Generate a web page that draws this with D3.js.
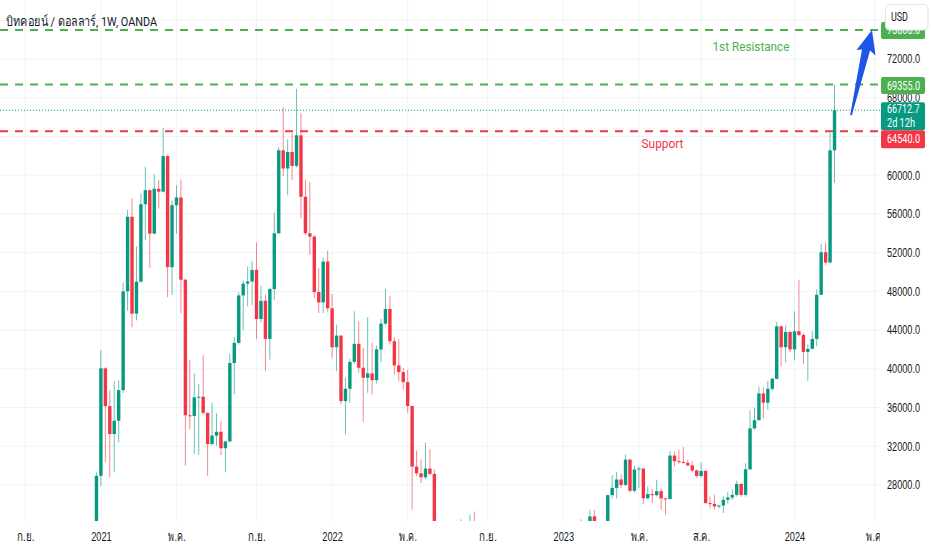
<!DOCTYPE html>
<html><head><meta charset="utf-8">
<script src="https://cdn.jsdelivr.net/npm/d3@7"></script>
<style>
body{margin:0;background:#fff;}
svg{display:block;font-family:Roboto,"Noto Sans","DejaVu Sans",sans-serif;}
</style>
</head><body>
<svg id="chart" width="932" height="550"></svg>
<script>
// ---------- DATA (weekly candles, first week Monday 2020-12-28) ----------
const firstWeek = "2020-12-28";
const lastWeek  = "2024-03-04";
const opens = [
 23700,28950,40050,36150,33260,34640,37800,48000,55700,45700,49000,57000,58450,53960,58600,58300,61970,50500,56900,57700,49200,35200,35130,37050,37120,35450,32230,33100,33500,31800,32500,40600,42680,47580,48800,49020,50220,45150,47030,43090,48240,54000,62570,60690,62400,60960,64120,57770,54000,53650,47930,46860,51080,
 46250,42230,43430,36670,37940,40720,42580,40110,39080,39520,38830,42000,44670,46180,42850,40350,39660,38630,36160,29900,29200,28800,29700,29150,20550,21030,19300,20850,20800,22600,23630,23180,24100,21500,20000,19800,21700,19400,18800,19300,19100,19200,20800,20600,20900,16300,16300,16500,17100,17100,16800,16800,
 16600,17100,20900,22700,22900,23400,21800,24760,23500,22400,22000,26950,27700,28570,28000,30620,27400,29600,29700,26630,27060,26950,27360,26620,26550,31040,30460,30380,30290,30020,29500,28930,29450,26130,26050,25790,25880,26470,26710,26980,28110,26980,29620,33850,34700,37460,36500,37940,38970,44390,42230,43810,42000,
 43880,43500,41750,42060,43090,47650,52040,50980,62570
];
const highs = [
 29300,41950,40150,37800,38700,38800,48900,56400,57600,52650,58100,60860,58500,60100,59500,64900,62100,57400,58960,59550,49300,40900,39500,38440,41400,35500,36500,35400,34640,32600,41550,43270,47900,49100,50570,51150,53040,48580,47650,48400,56120,62900,67030,63700,64360,68920,66410,59550,59310,53800,50400,51500,52210,
 47720,44560,43500,39080,41030,45940,44910,42170,45350,42680,42400,45150,48240,47480,43260,43090,40110,39900,36200,31550,30650,32380,31700,29600,21900,21500,22500,21600,24300,24450,23650,24920,25260,21800,20600,21800,22700,19700,20400,20500,19900,20900,21100,21400,21000,17200,16700,17400,17400,18400,17000,16900,
 17400,21400,23300,23900,24450,23500,25450,25400,23900,22600,27000,29000,29340,29100,31140,30700,30000,29900,29750,27840,27600,28550,27630,26650,31480,31480,31650,31920,30630,30460,29610,30360,29600,26800,27000,25950,26880,27300,27500,28450,28210,30250,35700,36000,38150,38050,38730,39050,44840,44460,44460,43880,45940,
 49200,43700,42500,43880,48240,52900,53070,64360,69355
];
const lows = [
 21900,27900,30330,28800,29300,32400,37500,46000,44300,45000,48900,53300,50450,53900,56550,58200,47400,47650,53960,45750,30000,33760,31200,31100,35300,28950,32100,32050,31100,29360,32400,37400,42500,44000,46450,46600,43090,44800,39760,40960,47140,53900,59900,57940,59490,60800,55540,53800,51770,47300,45770,45770,45900,
 41135,39760,36330,33250,36500,40500,39590,34510,37530,37360,38500,40690,44500,42510,39420,38730,37880,35470,25450,28930,28200,28600,28970,17600,19700,18800,19000,18900,20700,20700,22400,22700,20800,19600,19600,18500,19300,18200,18500,19000,18200,18900,19200,20100,15600,16000,15500,16000,16700,16300,16400,16300,
 16500,17100,20400,22300,22700,21400,21600,23000,21900,19600,21900,26620,26600,27700,27900,27230,27230,27700,26050,26550,26140,26820,25460,24920,26500,29950,30200,30220,29950,29320,28760,28760,26060,25620,25480,25550,25100,26080,26450,26800,26800,26800,29550,33700,34650,34860,35800,37700,38900,40270,40690,41720,40850,
 43350,40450,38730,42000,42340,47600,50740,50900,59210
];
const closes = [
 28950,40050,36150,33260,34640,37800,48000,55700,45700,49000,57000,58450,53960,58600,58300,61970,50500,56900,57700,49200,35200,35130,37050,37120,35450,32230,33100,33500,31800,32500,40600,42680,47580,48800,49020,50220,45150,47030,43090,48240,54000,62570,60690,62400,60960,64120,57770,54000,53650,47930,46860,51080,46250,
 42230,43430,36670,37940,40720,42580,40110,39080,39520,38830,42000,44670,46180,42850,40350,39660,38630,36160,29900,29200,28800,29700,29150,20550,21030,19300,20850,20800,22600,23630,23180,24100,21500,20000,19800,21700,19400,18800,19300,19100,19200,20800,20600,20900,16300,16300,16500,17100,17100,16800,16800,16600,
 17100,20900,22700,22900,23400,21800,24760,23500,22400,22000,26950,27700,28570,28000,30620,27400,29600,29700,26630,27060,26950,27360,26620,26550,31040,30460,30380,30290,30020,29500,28930,29450,26130,26050,25790,25880,26470,26710,26980,28110,26980,29620,33850,34700,37460,36500,37940,38970,44390,42230,43810,42000,43880,
 43500,41750,42060,43090,47650,52040,50980,62570,66712.7
];

const priceTicks = [28000,32000,36000,40000,44000,48000,52000,56000,60000,64000,68000,72000,76000];
const priceLabelTicks = [28000,32000,36000,40000,44000,48000,52000,56000,60000,68000,72000];
const timeTicks  = ["2020-09-07","2021-01-04","2021-05-03","2021-09-06","2022-01-03","2022-05-02","2022-09-05","2023-01-02","2023-05-01","2023-08-07","2024-01-01","2024-05-06"];
const timeLabels = ["ก.ย.","2021","พ.ค.","ก.ย.","2022","พ.ค.","ก.ย.","2023","พ.ค.","ส.ค.","2024","พ.ค."];

const resistance2 = 75000;
const resistance1 = 69355;
const support     = 64540;
const lastPrice   = 66712.7;
const countdown   = "2d 12h";
const titleText   = "บิทคอยน์ / ดอลลาร์, 1W, OANDA";
const resLabel    = "1st Resistance";
const supLabel    = "Support";
const currency    = "USD";

// ---------- SETUP ----------
const W = 932, H = 550, plotW = 880, plotH = 521;
const UP = "#089981", DOWN = "#F23645", GREEN = "#4CAF50", GRID = "#f0f3fa", TXT = "#131722";
const parse = d3.timeParse("%Y-%m-%d");
const weeks = d3.timeMonday.range(parse(firstWeek), d3.timeDay.offset(parse(lastWeek), 1));
const candles = weeks.map((d, i) => ({date: d, o: opens[i], h: highs[i], l: lows[i], c: closes[i]}));

const x = d3.scaleTime().domain([parse("2021-01-01"), parse("2024-01-01")]).range([99, 794.5]);
const y = d3.scaleLinear().domain([28000, 72000]).range([485, 59]);

const svg = d3.select("#chart");
const defs = svg.append("defs");
defs.append("clipPath").attr("id", "plotClip").append("rect").attr("x", 0).attr("y", 0).attr("width", plotW).attr("height", plotH);

svg.append("rect").attr("width", W).attr("height", H).attr("fill", "#fff");

const plot = svg.append("g").attr("clip-path", "url(#plotClip)");

// grid
plot.append("g").selectAll("line").data(priceTicks).join("line")
  .attr("x1", 0).attr("x2", plotW).attr("y1", d => y(d)).attr("y2", d => y(d))
  .attr("stroke", GRID).attr("stroke-width", 1);
plot.append("g").selectAll("line").data(timeTicks).join("line")
  .attr("x1", d => x(parse(d))).attr("x2", d => x(parse(d))).attr("y1", 0).attr("y2", plotH)
  .attr("stroke", GRID).attr("stroke-width", 1);

// candles
const cg = plot.append("g");
cg.selectAll("line.wick").data(candles).join("line").attr("class", "wick")
  .attr("x1", d => x(d.date)).attr("x2", d => x(d.date))
  .attr("y1", d => y(d.h)).attr("y2", d => y(d.l))
  .attr("stroke", d => d.c >= d.o ? UP : DOWN).attr("stroke-width", 1).attr("stroke-opacity", 0.6);
cg.selectAll("rect.body").data(candles).join("rect").attr("class", "body")
  .attr("x", d => x(d.date) - 1.7).attr("width", 3.4)
  .attr("y", d => y(Math.max(d.o, d.c)))
  .attr("height", d => Math.max(1, Math.abs(y(d.o) - y(d.c))))
  .attr("fill", d => d.c >= d.o ? UP : DOWN);

// level lines
function hline(v, color, w, dash) {
  plot.append("line").attr("x1", 0).attr("x2", plotW).attr("y1", y(v)).attr("y2", y(v))
    .attr("stroke", color).attr("stroke-width", w).attr("stroke-dasharray", dash);
}
hline(lastPrice, UP, 1, "1,2");
hline(resistance2, GREEN, 2, "8,7");
hline(resistance1, GREEN, 2, "8,7");
hline(support, DOWN, 2, "8,7");

// labels in plot
plot.append("text").attr("x", 751).attr("y", y(resistance2) + 16.5).attr("text-anchor", "middle")
  .attr("dominant-baseline", "central").attr("font-size", 13.5).attr("fill", GREEN)
  .attr("textLength", 77).attr("lengthAdjust", "spacingAndGlyphs").text(resLabel);
plot.append("text").attr("x", 662.5).attr("y", y(support) + 12).attr("text-anchor", "middle")
  .attr("dominant-baseline", "central").attr("font-size", 13.5).attr("fill", DOWN)
  .attr("textLength", 42).attr("lengthAdjust", "spacingAndGlyphs").text(supLabel);

// title
svg.append("text").attr("x", 6).attr("y", 20.5).attr("dominant-baseline", "central")
  .attr("font-size", 13.5).attr("fill", TXT).attr("textLength", 151).attr("lengthAdjust", "spacingAndGlyphs")
  .text(titleText);

// arrow annotation
const lastX = x(weeks[weeks.length - 1]);
const tail = [lastX + 16.5, y(lastPrice) + 5];
const tip = [lastX + 37.5, y(resistance2)];
const arrowPts = [
  [tail[0] - 0.9, tail[1]],
  [tip[0] - 10, tip[1] + 19.5],
  [tip[0] - 15.5, tip[1] + 20],
  [tip[0], tip[1]],
  [tip[0] + 3.5, tip[1] + 25.5],
  [tip[0] - 2, tip[1] + 20.5],
  [tail[0] + 0.9, tail[1]]
];
svg.append("path").attr("d", d3.line()(arrowPts) + "Z").attr("fill", "#1f55e6");

// price axis
const yAxis = d3.axisRight(y).tickValues(priceLabelTicks).tickFormat(d => d.toFixed(1)).tickSize(0).tickPadding(7);
const ya = svg.append("g").attr("transform", `translate(${plotW},0)`).call(yAxis);
ya.select(".domain").remove();
ya.selectAll("text").attr("font-size", 12).attr("fill", TXT).attr("font-family", null)
  .attr("textLength", 33).attr("lengthAdjust", "spacingAndGlyphs");

// time axis
const xAxis = d3.axisBottom(x).tickValues(timeTicks.map(parse)).tickFormat((d, i) => timeLabels[i]).tickSize(0).tickPadding(0);
const xa = svg.append("g").attr("transform", `translate(0,${plotH})`).call(xAxis);
xa.select(".domain").remove();
xa.selectAll("text").attr("font-size", 13).attr("fill", TXT).attr("font-family", null)
  .attr("y", 15).attr("dy", "0.35em")
  .attr("textLength", (d, i) => /\d/.test(timeLabels[i]) ? 20.5 : 17.5)
  .attr("lengthAdjust", "spacingAndGlyphs");
xa.append("clipPath").attr("id", "timeClipLocal").append("rect").attr("x", 0).attr("y", 0).attr("width", plotW).attr("height", H - plotH);
xa.attr("clip-path", "url(#timeClipLocal)");

// price tags
function tag(color, label, cy, h) {
  const g = svg.append("g");
  g.append("rect").attr("x", 881).attr("y", cy - h / 2).attr("width", 44).attr("height", h).attr("rx", 2).attr("fill", color);
  g.append("text").attr("x", 887).attr("y", cy).attr("dominant-baseline", "central").attr("font-size", 12)
    .attr("fill", "#fff").attr("textLength", 33).attr("lengthAdjust", "spacingAndGlyphs").text(label);
  return g;
}
tag(GREEN, resistance2.toFixed(1), y(resistance2) + 0.5, 17);
tag(GREEN, resistance1.toFixed(1), y(resistance1) + 1, 17);
const lt = svg.append("g");
lt.append("rect").attr("x", 881).attr("y", y(lastPrice) - 8).attr("width", 44).attr("height", 28).attr("rx", 2).attr("fill", UP);
lt.append("text").attr("x", 887).attr("y", y(lastPrice) - 1).attr("dominant-baseline", "central").attr("font-size", 12)
  .attr("fill", "#fff").attr("textLength", 32.5).attr("lengthAdjust", "spacingAndGlyphs").text(lastPrice.toFixed(1));
lt.append("text").attr("x", 887).attr("y", y(lastPrice) + 13).attr("dominant-baseline", "central").attr("font-size", 12)
  .attr("fill", "#fff").attr("textLength", 28).attr("lengthAdjust", "spacingAndGlyphs").text(countdown);
tag(DOWN, support.toFixed(1), y(lastPrice) + 29, 18);

// currency box
svg.append("rect").attr("x", 885.5).attr("y", 4.5).attr("width", 42.5).attr("height", 25.5).attr("rx", 4)
  .attr("fill", "#fff").attr("stroke", "#e0e3eb");
svg.append("text").attr("x", 891).attr("y", 17).attr("dominant-baseline", "central").attr("font-size", 12)
  .attr("fill", TXT).attr("textLength", 17).attr("lengthAdjust", "spacingAndGlyphs").text(currency);
</script>
</body></html>
